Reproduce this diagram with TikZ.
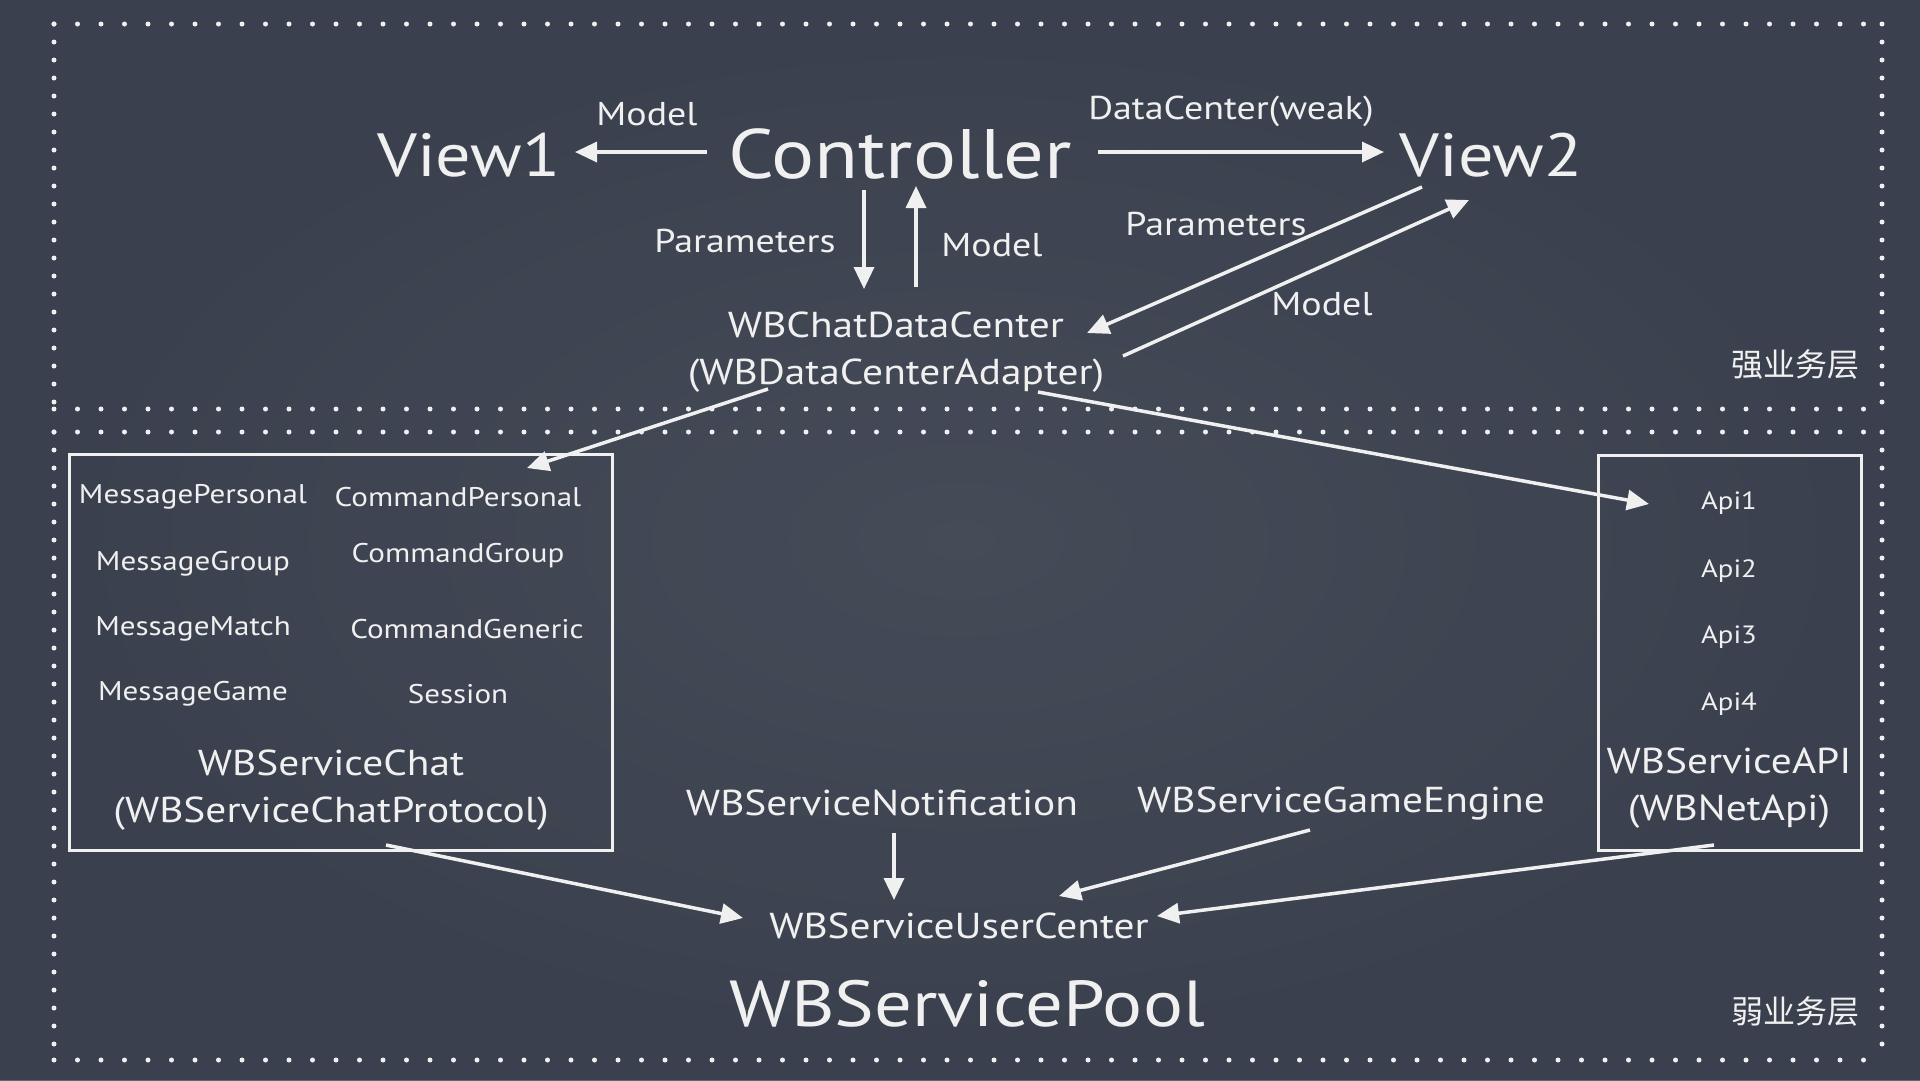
\documentclass[tikz,border=0pt]{standalone}
\usepackage{fontspec}
\setmainfont[FakeStretch=1.15]{PT Sans}
\newfontfamily\cjk{Noto Sans CJK SC}
\usetikzlibrary{arrows.meta,calc}
\definecolor{board}{RGB}{58,64,77}
\definecolor{boardlight}{RGB}{72,78,90}
\definecolor{chalk}{RGB}{240,240,240}
\begin{document}
\begin{tikzpicture}[x=1pt,y=-1pt,
  every node/.style={text=chalk, inner sep=0pt},
  big/.style={font=\fontsize{65}{70}\selectfont},
  viewfont/.style={font=\fontsize{61}{66}\selectfont},
  ctrlfont/.style={font=\fontsize{70}{74}\selectfont},
  mid/.style={font=\fontsize{36}{47}\selectfont, align=center},
  lab/.style={font=\fontsize{33}{36}\selectfont},
  item/.style={font=\fontsize{27}{30}\selectfont},
  apiitem/.style={font=\fontsize{25}{28}\selectfont},
  cn/.style={font=\cjk\fontsize{32}{36}\selectfont},
  arr/.style={draw=chalk, line width=3.5pt, -{Triangle[length=22pt,width=20pt]}},
  chalkbox/.style={draw=chalk, line width=3pt, rectangle},
  dotsH/.style={draw=chalk, line width=5pt, line cap=round, dash pattern=on 0pt off 23.5pt},
  dotsV/.style={draw=chalk, line width=5pt, line cap=round, dash pattern=on 0pt off 18pt}
]
\useasboundingbox (0,0) rectangle (1920,1080);
\fill[board] (0,0) rectangle (1920,1080);
\shade[inner color=boardlight, outer color=board, opacity=0.8] (0,0) rectangle (1920,1080);

% dotted layer frames
\draw[dotsH] (54,24) -- (1882,24);
\draw[dotsH] (54,409) -- (1882,409);
\draw[dotsV] (54,24) -- (54,409);
\draw[dotsV] (1882,24) -- (1882,409);
\draw[dotsH] (54,432) -- (1882,432);
\draw[dotsH] (54,1060) -- (1882,1060);
\draw[dotsV] (54,432) -- (54,1060);
\draw[dotsV] (1882,432) -- (1882,1060);

% upper layer
\node[viewfont] (view1) at (469,155) {View1};
\node[ctrlfont] (ctrl) at (900,154) {Controller};
\node[viewfont] (view2) at (1491,155) {View2};
\node[lab] (lm1) at (647,114) {Model};
\node[lab] (ldc) at (1231,111) {DataCenter(weak)};
\node[mid] (dc) at (896,352) {WBChatDataCenter\\(WBDataCenterAdapter)};
\node[lab] (lp1) at (745,241) {Parameters};
\node[lab] (lm2) at (992,245) {Model};
\node[lab] (lp2) at (1216,224) {Parameters};
\node[lab] (lm3) at (1322,304) {Model};
\node[cn] (strong) at (1795,364) {强业务层};

\draw[arr] ($(ctrl)+(-193,-2)$) -- ($(view1)+(106,-3)$);
\draw[arr] ($(ctrl)+(198,-2)$) -- ($(view2)+(-107,-3)$);
\draw[arr] ($(ctrl)+(-36,36)$) -- ($(dc)+(-32,-63)$);
\draw[arr] ($(dc)+(20,-65)$) -- ($(ctrl)+(16,32)$);
\draw[arr] ($(view2)+(-69,32)$) -- ($(dc)+(191,-19)$);
\draw[arr] ($(dc)+(227,4)$) -- ($(view2)+(-22,45)$);

% lower layer
\node[chalkbox, minimum width=543pt, minimum height=396pt] (chat) at (340.5,652) {};
\node[item] (mp) at (193,497) {MessagePersonal};
\node[item] (cp) at (458,497) {CommandPersonal};
\node[item] (mg) at (193,564) {MessageGroup};
\node[item] (cg) at (458,556) {CommandGroup};
\node[item] (mm) at (193,629) {MessageMatch};
\node[item] (cge) at (467,629) {CommandGeneric};
\node[item] (mga) at (193,694) {MessageGame};
\node[item] (ses) at (458,694) {Session};
\node[mid] (chatname) at (331,790) {WBServiceChat\\(WBServiceChatProtocol)};

\node[chalkbox, minimum width=263pt, minimum height=395pt] (api) at (1729.5,652.5) {};
\node[apiitem] (api1) at (1729,503) {Api1};
\node[apiitem] (api2) at (1729,571) {Api2};
\node[apiitem] (api3) at (1729,637) {Api3};
\node[apiitem] (api4) at (1729,704) {Api4};
\node[mid] (apiname) at (1729,788) {WBServiceAPI\\(WBNetApi)};

\node[mid] (notif) at (882,803) {WBServiceNotification};
\node[mid] (game) at (1341,803) {WBServiceGameEngine};
\node[mid] (uc) at (959,926) {WBServiceUserCenter};
\node[big] (pool) at (967,1004) {WBServicePool};
\node[cn] (weak) at (1795,1011) {弱业务层};

\draw[arr] ($(dc)+(-128,37)$) -- ($(chat)+(186.5,-184)$);
\draw[arr] ($(dc)+(142,40)$) -- ($(api1)+(-80,1)$);
\draw[arr] ($(chat)+(45.5,193)$) -- ($(uc)+(-216,-8)$);
\draw[arr] ($(notif)+(12,30)$) -- ($(uc)+(-65,-26)$);
\draw[arr] ($(game)+(-31,27)$) -- ($(uc)+(100,-30)$);
\draw[arr] ($(api)+(-15.5,192.5)$) -- ($(uc)+(198,-10)$);
\end{tikzpicture}
\end{document}
